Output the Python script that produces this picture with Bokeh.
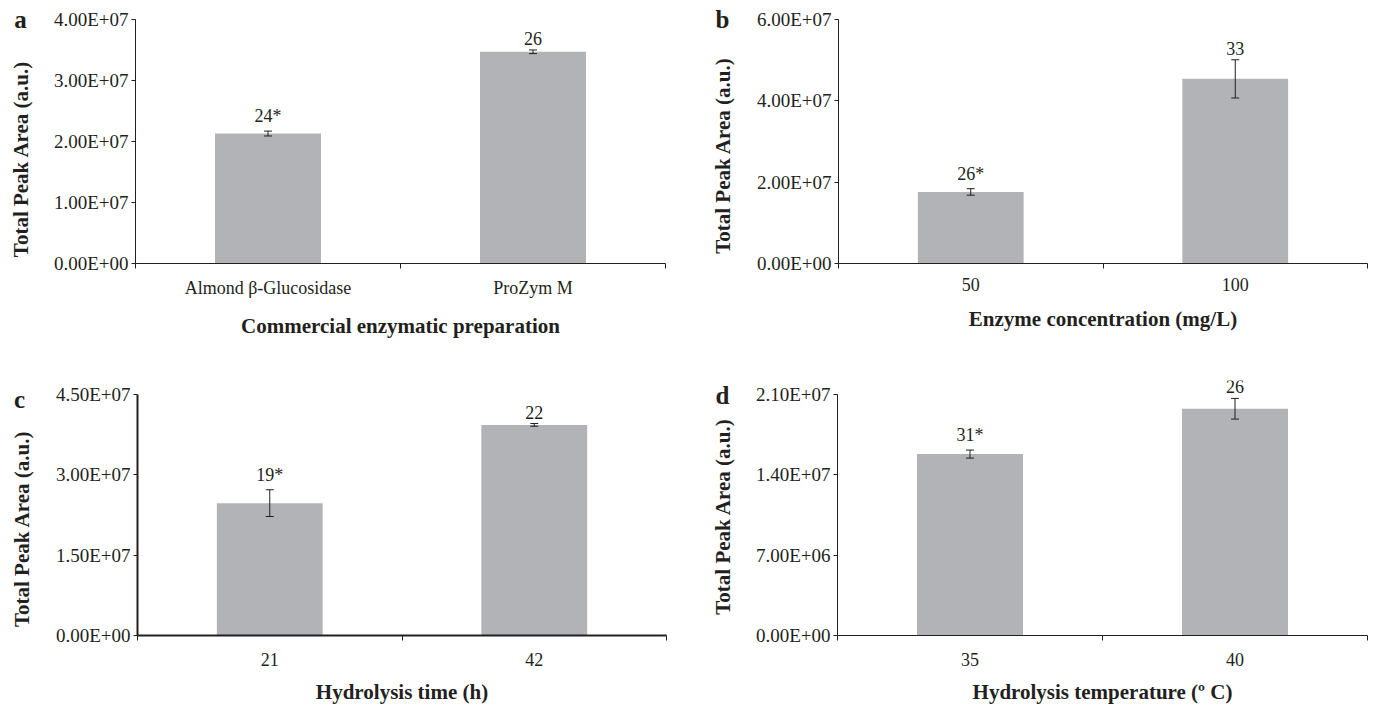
import math
from bokeh.plotting import figure
from bokeh.models import (ColumnDataSource, Range1d, FixedTicker, Whisker, TeeHead,
                          LabelSet, Label)
from bokeh.layouts import column, row
from bokeh.embed import file_html
from bokeh.resources import INLINE

FONT = "Liberation Serif"
BAR_COLOR = "#B2B3B7"
INK = "#231F20"

# ---------------- data ----------------
a_categories = ["Almond β-Glucosidase", "ProZym M"]
a_values = [2.13e7, 3.47e7]
a_errors = [4.0e5, 3.0e5]
a_labels = ["24*", "26"]
a_yticks = [0, 1e7, 2e7, 3e7, 4e7]
a_xtitle = "Commercial enzymatic preparation"

b_categories = ["50", "100"]
b_values = [1.76e7, 4.54e7]
b_errors = [8.0e5, 4.7e6]
b_labels = ["26*", "33"]
b_yticks = [0, 2e7, 4e7, 6e7]
b_xtitle = "Enzyme concentration (mg/L)"

c_categories = ["21", "42"]
c_values = [2.47e7, 3.93e7]
c_errors = [2.5e6, 2.5e5]
c_labels = ["19*", "22"]
c_yticks = [0, 1.5e7, 3e7, 4.5e7]
c_xtitle = "Hydrolysis time (h)"

d_categories = ["35", "40"]
d_values = [1.58e7, 1.975e7]
d_errors = [3.5e5, 9.0e5]
d_labels = ["31*", "26"]
d_yticks = [0, 7e6, 1.4e7, 2.1e7]
d_xtitle = "Hydrolysis temperature (º C)"

YTITLE = "Total Peak Area (a.u.)"

HEADROOM = 14  # px of frame above the top tick, room for value labels


def panel(letter, cats, vals, errs, labels, yticks, xtitle,
          width, height, left, right, top_tick_px, span_px, bottom,
          axis_w, xlab_standoff, xtitle_standoff, ytitle_px, letter_px):
    """top_tick_px / ytitle_px / letter_px are in figure pixel coordinates."""
    n = len(cats)
    frame_w = width - left - right
    top = top_tick_px - HEADROOM
    frame_h = span_px + HEADROOM
    ymax = yticks[-1] * frame_h / span_px
    zero_px = top_tick_px + span_px

    def dx(px):
        return (px - left) / frame_w * n

    def dy(py):
        return (zero_px - py) / span_px * yticks[-1]

    p = figure(width=width, height=height, output_backend="svg",
               toolbar_location=None, tools="",
               x_range=Range1d(0, n), y_range=Range1d(0, ymax),
               min_border_left=left, min_border_right=right,
               min_border_top=top, min_border_bottom=bottom)
    p.outline_line_color = None
    p.grid.visible = False
    p.background_fill_color = "white"
    p.border_fill_color = "white"

    xs = [i + 0.5 for i in range(n)]
    src = ColumnDataSource(dict(
        x=xs, top=vals,
        upper=[v + e for v, e in zip(vals, errs)],
        lower=[v - e for v, e in zip(vals, errs)],
        lab=labels))
    p.vbar(x="x", top="top", width=0.4, source=src,
           fill_color=BAR_COLOR, line_color=None)
    p.add_layout(Whisker(source=src, base="x", upper="upper", lower="lower",
                         level="overlay", line_color=INK, line_width=1,
                         upper_head=TeeHead(size=8, line_color=INK, line_width=1),
                         lower_head=TeeHead(size=8, line_color=INK, line_width=1)))
    p.add_layout(LabelSet(source=src, x="x", y="upper", text="lab",
                          y_offset=5, text_align="center", text_baseline="bottom",
                          text_font=FONT, text_font_size="18px", text_color=INK))

    # x axis: labels at category centres, tick marks at category boundaries
    xa = p.xaxis[0]
    xa.ticker = FixedTicker(ticks=xs, minor_ticks=list(range(n + 1)))
    xa.major_label_overrides = {x: c for x, c in zip(xs, cats)}
    xa.major_tick_out = 0
    xa.major_tick_in = 0
    xa.minor_tick_out = 5
    xa.minor_tick_in = 0
    xa.minor_tick_line_color = INK
    xa.axis_line_color = INK
    xa.axis_line_width = axis_w
    xa.major_label_text_font = FONT
    xa.major_label_text_font_size = "18px"
    xa.major_label_text_color = INK
    xa.major_label_standoff = xlab_standoff
    xa.axis_label = xtitle
    xa.axis_label_text_font = FONT
    xa.axis_label_text_font_style = "bold"
    xa.axis_label_text_font_size = "21px"
    xa.axis_label_text_color = INK
    xa.axis_label_standoff = xtitle_standoff

    # y axis
    ya = p.yaxis[0]
    ya.bounds = (0, yticks[-1])
    ya.ticker = FixedTicker(ticks=yticks, minor_ticks=[])
    ya.major_label_overrides = {t: f"{t:.2E}" for t in yticks}
    ya.major_tick_out = 4
    ya.major_tick_in = 0
    ya.major_tick_line_color = INK
    ya.axis_line_color = INK
    ya.axis_line_width = axis_w
    ya.major_label_text_font = FONT
    ya.major_label_text_font_size = "19px"
    ya.major_label_text_color = INK
    ya.major_label_standoff = 3

    p.add_layout(Label(x=dx(letter_px[0]), y=dy(letter_px[1]),
                       text=letter, text_align="center", text_baseline="middle",
                       text_font=FONT, text_font_style="bold",
                       text_font_size="25px", text_color=INK), "left")
    p.add_layout(Label(x=dx(ytitle_px[0]), y=dy(ytitle_px[1]),
                       text=YTITLE, angle=math.pi / 2, text_align="center",
                       text_baseline="middle", text_font=FONT, text_font_style="bold",
                       text_font_size="21px", text_color=INK), "left")
    return p


# figure-pixel geometry (left column 688 px, right 687 px)
pa = panel("a", a_categories, a_values, a_errors, a_labels, a_yticks, a_xtitle,
           688, 350, 135, 23, 18, 245, 87, 1, 9, 13, (20, 158), (20, 18))
pb = panel("b", b_categories, b_values, b_errors, b_labels, b_yticks, b_xtitle,
           687, 350, 150, 8, 19, 244, 87, 1, 9, 13, (34, 155), (34, 19))
pc = panel("c", c_categories, c_values, c_errors, c_labels, c_yticks, c_xtitle,
           688, 356, 137, 22, 43, 244, 69, 2, 12, 11, (21, 179), (19, 48))
pd = panel("d", d_categories, d_values, d_errors, d_labels, d_yticks, d_xtitle,
           687, 356, 149, 8, 44, 243, 69, 1, 12, 11, (34, 167), (34, 45))

layout = column(row(pa, pb), row(pc, pd))
open("out.html", "w").write(file_html(layout, INLINE, title="Total Peak Area"))
